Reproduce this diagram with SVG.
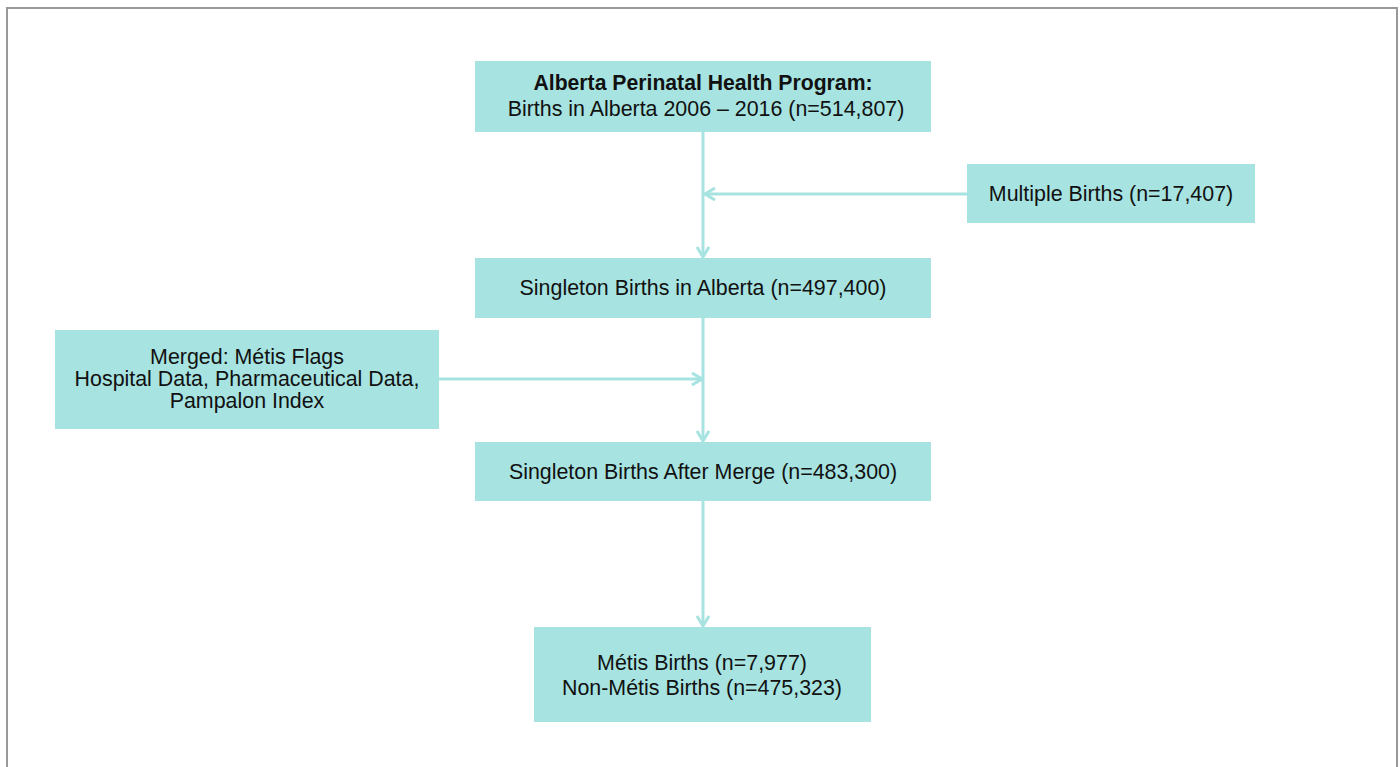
<svg xmlns="http://www.w3.org/2000/svg" width="1400" height="767" viewBox="0 0 1400 767">
<style>
.box{fill:#a7e3e0;}
.t{font-family:"Liberation Sans",Arial,sans-serif;font-size:21.4px;fill:#111;text-anchor:middle;}
.b{font-weight:bold;font-size:21.2px;}
.c{stroke:#a7e3e0;stroke-width:3;fill:none;}
</style>
<defs>
<marker id="ah" viewBox="0 0 12 14" refX="11" refY="7" markerWidth="12" markerHeight="14" markerUnits="userSpaceOnUse" orient="auto">
<path d="M1,1 L11,7 L1,13" fill="none" stroke="#a7e3e0" stroke-width="3"/>
</marker>
</defs>
<rect x="0" y="0" width="1400" height="767" fill="#fff"/>
<path d="M7,780 L7,8 L1397,8 L1397,780" fill="none" stroke="#999" stroke-width="2"/>
<g id="connectors">
<line class="c" x1="703" y1="132" x2="703" y2="257" marker-end="url(#ah)"/>
<line class="c" x1="967" y1="194" x2="705" y2="194" marker-end="url(#ah)"/>
<line class="c" x1="703" y1="318" x2="703" y2="441" marker-end="url(#ah)"/>
<line class="c" x1="439" y1="379" x2="702" y2="379" marker-end="url(#ah)"/>
<line class="c" x1="703" y1="501" x2="703" y2="626" marker-end="url(#ah)"/>
</g>
<g id="n1">
<rect class="box" x="475" y="61" width="456" height="71"/>
<text class="t b" x="703" y="90">Alberta Perinatal Health Program:</text>
<text class="t" x="706" y="116">Births in Alberta 2006 – 2016 (n=514,807)</text>
</g>
<g id="n2">
<rect class="box" x="967" y="164" width="288" height="59"/>
<text class="t" x="1111" y="201">Multiple Births (n=17,407)</text>
</g>
<g id="n3">
<rect class="box" x="475" y="258" width="456" height="60"/>
<text class="t" x="703" y="295">Singleton Births in Alberta (n=497,400)</text>
</g>
<g id="n4">
<rect class="box" x="55" y="330" width="384" height="99"/>
<text class="t" x="247" y="364">Merged: Métis Flags</text>
<text class="t" x="247" y="386">Hospital Data, Pharmaceutical Data,</text>
<text class="t" x="247" y="408">Pampalon Index</text>
</g>
<g id="n5">
<rect class="box" x="475" y="442" width="456" height="59"/>
<text class="t" x="703" y="479">Singleton Births After Merge (n=483,300)</text>
</g>
<g id="n6">
<rect class="box" x="534" y="627" width="337" height="95"/>
<text class="t" x="702" y="670">Métis Births (n=7,977)</text>
<text class="t" x="702" y="695">Non-Métis Births (n=475,323)</text>
</g>
</svg>
